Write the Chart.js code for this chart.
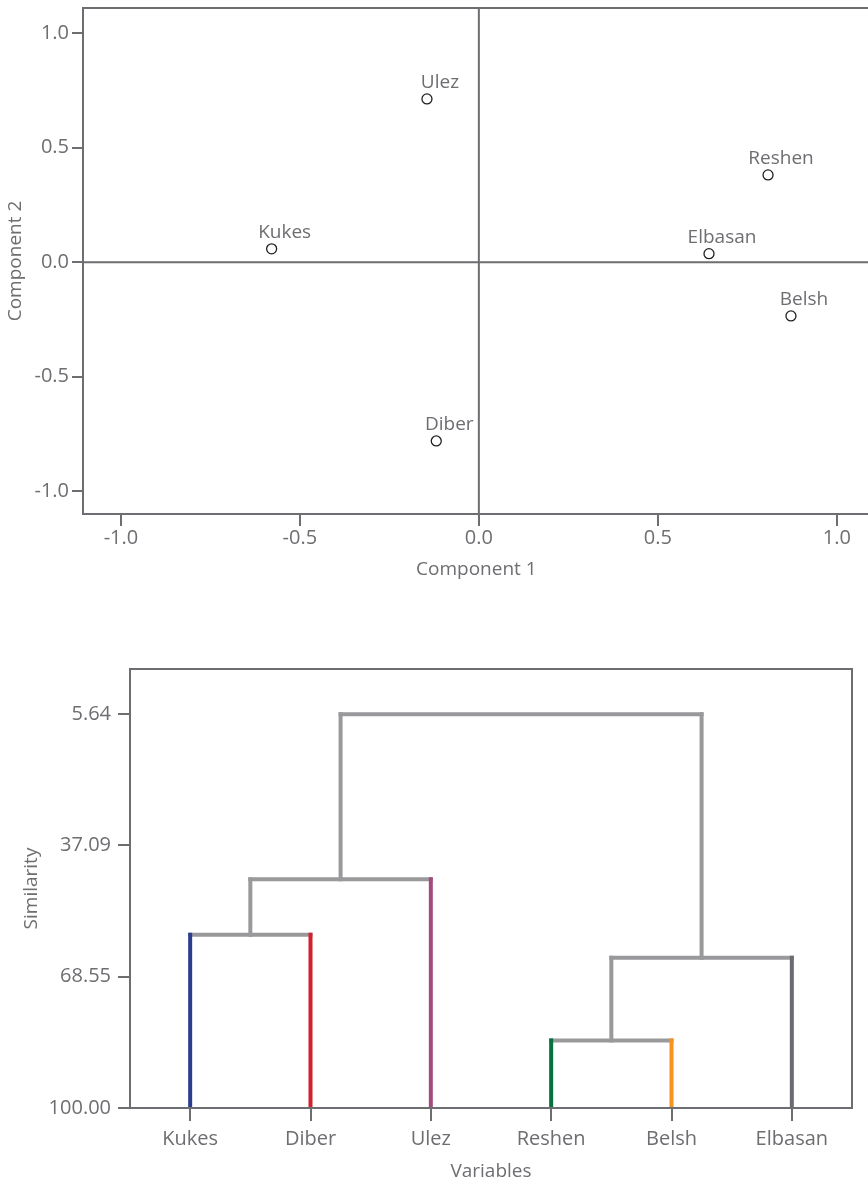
<!DOCTYPE html>
<html>
<head>
<meta charset="utf-8">
<script src="https://cdn.jsdelivr.net/npm/chart.js@4.4.0/dist/chart.umd.min.js"></script>
<style>
  html, body { margin: 0; padding: 0; background: #fff; overflow: hidden; }
  #top { position: absolute; left: 0; top: 0; width: 876px; height: 620px; }
  #bottom { position: absolute; left: 0; top: 620px; width: 868px; height: 564px; }
</style>
</head>
<body>
<div id="top"><canvas id="loadingChart"></canvas></div>
<div id="bottom"><canvas id="dendroChart"></canvas></div>
<script>
// loading plot
const stations = ["Ulez", "Reshen", "Kukes", "Elbasan", "Belsh", "Diber"];
const comp1 = [-0.145, 0.808, -0.579, 0.643, 0.872, -0.119];
const comp2 = [0.713, 0.381, 0.058, 0.037, -0.235, -0.781];
const loadingTicks = [-1.0, -0.5, 0.0, 0.5, 1.0];

// dendrogram: nodes 0-5 are leaves, every merge adds node 6, 7, ...
const variables = ["Kukes", "Diber", "Ulez", "Reshen", "Belsh", "Elbasan"];
const mergeA = [0, 3, 6, 7, 8];
const mergeB = [1, 4, 2, 5, 9];
const mergeSimilarity = [58.5, 83.8, 45.2, 64.0, 5.64];
const similarityTicks = [5.64, 37.09, 68.55, 100.00];

const leafColors = ["#2b3e8e", "#d1202f", "#a54b7c", "#08703f", "#f7931e", "#6b6c6f"];
const linkColor = "#99999c";
const axisColor = "#6d6e71";
const textColor = "#6d6e71";
const fontFamily = "'Open Sans', sans-serif";

Chart.defaults.font.family = fontFamily;
Chart.defaults.font.size = 19;
Chart.defaults.color = textColor;
Chart.defaults.animation = false;

const tickFont = { size: 20 };

const framePlugin = {
    id: "frame",
    afterDraw(chart) {
        const a = chart.chartArea;
        const ctx = chart.ctx;
        ctx.save();
        ctx.strokeStyle = axisColor;
        ctx.lineWidth = 2;
        ctx.strokeRect(a.left, a.top, a.right - a.left, a.bottom - a.top);
        ctx.restore();
    }
};

const zeroLines = {
    id: "zeroLines",
    beforeDatasetsDraw(chart) {
        const a = chart.chartArea;
        const ctx = chart.ctx;
        const x0 = chart.scales.x.getPixelForValue(0);
        const y0 = chart.scales.y.getPixelForValue(0);
        ctx.save();
        ctx.strokeStyle = axisColor;
        ctx.lineWidth = 2;
        ctx.beginPath();
        ctx.moveTo(x0, a.top); ctx.lineTo(x0, a.bottom);
        ctx.moveTo(a.left, y0); ctx.lineTo(a.right, y0);
        ctx.stroke();
        ctx.restore();
    }
};

const pointLabels = {
    id: "pointLabels",
    afterDatasetsDraw(chart) {
        const ctx = chart.ctx;
        const meta = chart.getDatasetMeta(0);
        ctx.save();
        ctx.font = "19px " + fontFamily;
        ctx.fillStyle = textColor;
        ctx.textAlign = "center";
        ctx.textBaseline = "alphabetic";
        meta.data.forEach((pt, i) => {
            ctx.fillText(stations[i], pt.x + 13, pt.y - 11);
        });
        ctx.restore();
    }
};

new Chart(document.getElementById("loadingChart"), {
    type: "scatter",
    data: {
        datasets: [{
            data: stations.map((s, i) => ({ x: comp1[i], y: comp2[i] })),
            pointRadius: 5,
            pointBorderWidth: 1.3,
            pointBorderColor: "#231f20",
            pointBackgroundColor: "#ffffff"
        }]
    },
    options: {
        responsive: true,
        maintainAspectRatio: false,
        layout: { padding: { top: 8, left: 0, right: 0, bottom: 0 } },
        plugins: { legend: { display: false }, tooltip: { enabled: false } },
        scales: {
            x: {
                type: "linear", min: -1.106, max: 1.092,
                afterBuildTicks: s => { s.ticks = loadingTicks.map(v => ({ value: v })); },
                afterFit: s => { s.height = 106; s.paddingRight = 0; },
                ticks: { callback: v => v.toFixed(1), padding: 0, maxRotation: 0, font: tickFont },
                grid: { drawOnChartArea: false, tickLength: 12, color: axisColor, lineWidth: 2 },
                border: { display: true, color: axisColor, width: 2 },
                title: { display: true, text: "Component 1", padding: { top: 0, bottom: 39 } }
            },
            y: {
                type: "linear", min: -1.1, max: 1.11,
                afterBuildTicks: s => { s.ticks = loadingTicks.map(v => ({ value: v })); },
                afterFit: s => { s.width = 83; s.paddingTop = 0; s.paddingBottom = 0; },
                ticks: { callback: v => v.toFixed(1), padding: 3, font: tickFont },
                grid: { drawOnChartArea: false, tickLength: 11, color: axisColor, lineWidth: 2 },
                border: { display: true, color: axisColor, width: 2 },
                title: { display: true, text: "Component 2", padding: { top: 4, bottom: 0 } }
            }
        }
    },
    plugins: [zeroLines, pointLabels, framePlugin]
});

// build dendrogram segments from the merge list
const nodeX = variables.map((v, i) => i);
const nodeH = variables.map(() => 100);
const segments = [];
mergeA.forEach((a, k) => {
    const b = mergeB[k];
    const h = mergeSimilarity[k];
    [a, b].forEach(c => {
        segments.push({
            data: [{ x: nodeX[c], y: nodeH[c] }, { x: nodeX[c], y: h }],
            borderColor: c < variables.length ? leafColors[c] : linkColor,
            order: 0
        });
    });
    segments.push({
        data: [{ x: nodeX[a], y: h }, { x: nodeX[b], y: h }],
        borderColor: linkColor,
        order: 1
    });
    nodeX.push((nodeX[a] + nodeX[b]) / 2);
    nodeH.push(h);
});

new Chart(document.getElementById("dendroChart"), {
    type: "scatter",
    data: {
        datasets: segments.map(s => ({
            data: s.data,
            borderColor: s.borderColor,
            order: s.order,
            showLine: true,
            borderWidth: 4,
            borderCapStyle: "square",
            pointRadius: 0,
            clip: 0
        }))
    },
    options: {
        responsive: true,
        maintainAspectRatio: false,
        layout: { padding: { top: 49, left: 0, right: 16, bottom: 0 } },
        plugins: { legend: { display: false }, tooltip: { enabled: false } },
        scales: {
            x: {
                type: "linear", min: -0.5, max: variables.length - 0.5,
                afterBuildTicks: s => { s.ticks = variables.map((v, i) => ({ value: i })); },
                afterFit: s => { s.height = 76; },
                ticks: { callback: v => variables[v], padding: 6, maxRotation: 0, font: tickFont },
                grid: { drawOnChartArea: false, tickLength: 13, color: axisColor, lineWidth: 2 },
                border: { display: true, color: axisColor, width: 2 },
                title: { display: true, text: "Variables", padding: { top: 0, bottom: 1 } }
            },
            y: {
                type: "linear", reverse: true, min: -5.2, max: 100,
                afterBuildTicks: s => { s.ticks = similarityTicks.map(v => ({ value: v })); },
                afterFit: s => { s.width = 130; },
                ticks: { callback: v => v.toFixed(2), padding: 7, font: tickFont },
                grid: { drawOnChartArea: false, tickLength: 12, color: axisColor, lineWidth: 2 },
                border: { display: true, color: axisColor, width: 2 },
                title: { display: true, text: "Similarity", padding: { top: 20, bottom: 0 } }
            }
        }
    },
    plugins: [framePlugin]
});
</script>
</body>
</html>
